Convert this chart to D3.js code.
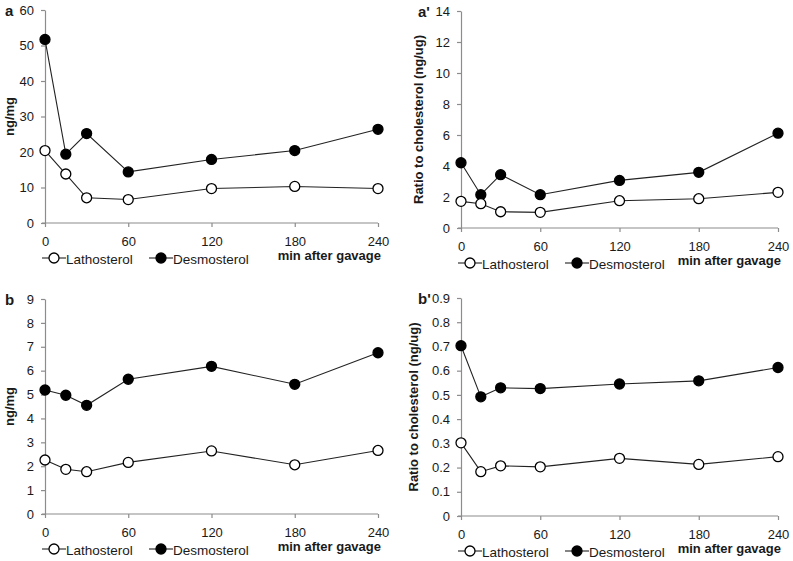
<!DOCTYPE html>
<html>
<head>
<meta charset="utf-8">
<script src="https://cdn.jsdelivr.net/npm/d3@7"></script>
<style>
  body { margin: 0; background: #fff; }
  svg { display: block; font-family: "Liberation Sans", Arial, sans-serif; }
</style>
</head>
<body>
<div id="chart"></div>
<script>
// sampling times (min after gavage)
var times = [0, 15, 30, 60, 120, 180, 240];
var xTicks = [0, 60, 120, 180, 240];

// panel a: ng/mg
var aLatho = [20.4, 13.8, 7.1, 6.6, 9.7, 10.3, 9.7];
var aDesmo = [51.7, 19.4, 25.2, 14.4, 17.9, 20.4, 26.4];
// panel a': ratio to cholesterol
var apLatho = [1.72, 1.57, 1.05, 1.01, 1.76, 1.89, 2.30];
var apDesmo = [4.21, 2.15, 3.44, 2.15, 3.07, 3.59, 6.12];
// panel b: ng/mg
var bLatho = [2.26, 1.87, 1.77, 2.16, 2.64, 2.06, 2.66];
var bDesmo = [5.19, 4.97, 4.55, 5.64, 6.18, 5.43, 6.75];
// panel b': ratio to cholesterol
var bpLatho = [0.302, 0.183, 0.207, 0.203, 0.238, 0.213, 0.245];
var bpDesmo = [0.703, 0.492, 0.529, 0.526, 0.545, 0.558, 0.613];

var aTicks = [0, 10, 20, 30, 40, 50, 60];
var apTicks = [0, 2, 4, 6, 8, 10, 12, 14];
var bTicks = [0, 1, 2, 3, 4, 5, 6, 7, 8, 9];
var bpTicks = [0, 0.1, 0.2, 0.3, 0.4, 0.5, 0.6, 0.7, 0.8, 0.9];

var width = 793;
var height = 561;

var svg = d3.select("#chart")
    .append("svg")
    .attr("width", width)
    .attr("height", height);

var panels = [
    {label: "a", title: "ng/mg", latho: aLatho, desmo: aDesmo, ticks: aTicks, fmt: d3.format("d"),
     x0: 45, x1: 378, y0: 223, y1: 10, titleX: 9},
    {label: "a'", title: "Ratio to cholesterol (ng/ug)", latho: apLatho, desmo: apDesmo, ticks: apTicks, fmt: d3.format("d"),
     x0: 461, x1: 778, y0: 228, y1: 11, titleX: 418},
    {label: "b", title: "ng/mg", latho: bLatho, desmo: bDesmo, ticks: bTicks, fmt: d3.format("d"),
     x0: 45, x1: 378, y0: 514, y1: 299, titleX: 9},
    {label: "b'", title: "Ratio to cholesterol (ng/ug)", latho: bpLatho, desmo: bpDesmo, ticks: bpTicks, fmt: d => d === 0 ? "0" : d3.format(".1f")(d),
     x0: 461, x1: 778, y0: 516, y1: 298, titleX: 413}
];

var axisColor = "#8c8c8c";
var textColor = "#1a1a1a";

function drawPanel(p) {
    var g = svg.append("g");

    var x = d3.scaleLinear()
        .domain([0, 240])
        .range([p.x0, p.x1]);

    var y = d3.scaleLinear()
        .domain([0, d3.max(p.ticks)])
        .range([p.y0, p.y1]);

    var yAxis = g.append("g")
        .attr("transform", `translate(${p.x0}, 0)`)
        .call(d3.axisLeft(y).tickValues(p.ticks).tickFormat(p.fmt).tickSize(4).tickSizeOuter(0).tickPadding(7));

    var xAxis = g.append("g")
        .attr("transform", `translate(0, ${p.y0})`)
        .call(d3.axisBottom(x).tickValues(xTicks).tickSize(4).tickSizeOuter(0).tickPadding(8));

    [xAxis, yAxis].forEach(function(ax) {
        ax.select(".domain").attr("stroke", axisColor).attr("stroke-width", 1.2);
        ax.selectAll(".tick line").attr("stroke", axisColor).attr("stroke-width", 1.2);
        ax.selectAll(".tick text")
            .attr("fill", textColor)
            .style("font-size", "13px")
            .style("font-family", "'Liberation Sans', Arial, sans-serif");
    });
    xAxis.selectAll(".tick text").attr("dy", "0.85em");
    // tiny stub of the x axis left of the y axis
    xAxis.select(".domain").attr("d", `M${p.x0 - 3},0H${p.x1}`);

    // panel letter
    g.append("text")
        .attr("x", p.x0 - 40 + (p.label.length > 1 ? -3 : 0))
        .attr("y", p.y1 + 6)
        .attr("font-weight", "bold")
        .attr("font-size", "15px")
        .attr("fill", textColor)
        .text(p.label);

    // y axis title
    g.append("text")
        .attr("transform", `translate(${p.titleX}, ${(p.y0 + p.y1) / 2}) rotate(270)`)
        .attr("text-anchor", "middle")
        .attr("dy", "0.35em")
        .attr("font-weight", "bold")
        .attr("font-size", "13px")
        .attr("fill", textColor)
        .text(p.title);

    var line = d3.line()
        .x((d, i) => x(times[i]))
        .y(d => y(d));

    var series = [
        {values: p.desmo, fill: "#000"},
        {values: p.latho, fill: "#fff"}
    ];

    series.forEach(function(s) {
        g.append("path")
            .datum(s.values)
            .attr("fill", "none")
            .attr("stroke", "#222")
            .attr("stroke-width", 1.1)
            .attr("d", line);

        g.append("g")
            .selectAll("circle")
            .data(s.values)
            .enter().append("circle")
                .attr("cx", (d, i) => x(times[i]))
                .attr("cy", d => y(d))
                .attr("r", 5)
                .attr("fill", s.fill)
                .attr("stroke", "#000")
                .attr("stroke-width", 1.3);
    });

    // legend
    var ly = p.y0 + 35;
    var legend = [
        {name: "Lathosterol", fill: "#fff", lx: p.x0 - 3, tx: p.x0 + 21},
        {name: "Desmosterol", fill: "#000", lx: p.x0 + 104, tx: p.x0 + 128}
    ];
    legend.forEach(function(l) {
        g.append("line")
            .attr("x1", l.lx).attr("x2", l.lx + 24)
            .attr("y1", ly).attr("y2", ly)
            .attr("stroke", "#222")
            .attr("stroke-width", 1.1);
        g.append("circle")
            .attr("cx", l.lx + 12).attr("cy", ly)
            .attr("r", 5)
            .attr("fill", l.fill)
            .attr("stroke", "#000")
            .attr("stroke-width", 1.3);
        g.append("text")
            .attr("x", l.tx)
            .attr("y", ly + 6)
            .attr("font-size", "13.5px")
            .attr("fill", textColor)
            .text(l.name);
    });

    g.append("text")
        .attr("x", p.x1 + 3)
        .attr("y", p.y0 + 37)
        .attr("text-anchor", "end")
        .attr("font-weight", "bold")
        .attr("font-size", "13px")
        .attr("fill", textColor)
        .text("min after gavage");
}

panels.forEach(drawPanel);
</script>
</body>
</html>
